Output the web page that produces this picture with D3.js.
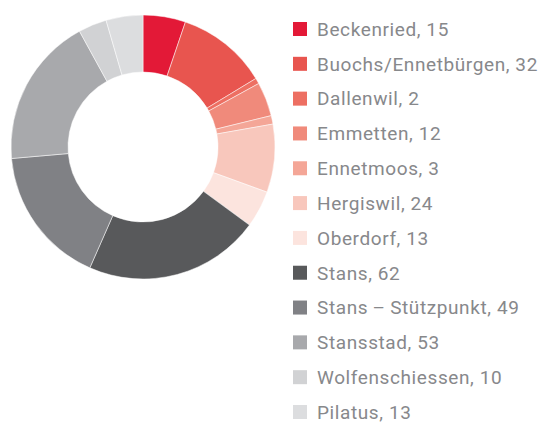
<!DOCTYPE html>
<html>
<head>
<meta charset="utf-8">
<script src="https://cdn.jsdelivr.net/npm/d3@7"></script>
<style>
  body { margin: 0; background: #fff; }
</style>
</head>
<body>
<svg id="chart"></svg>
<script>
const names = ["Beckenried", "Buochs/Ennetbürgen", "Dallenwil", "Emmetten", "Ennetmoos", "Hergiswil",
  "Oberdorf", "Stans", "Stans\u2009–\u2009Stützpunkt", "Stansstad", "Wolfenschiessen", "Pilatus"];
const values = [15, 32, 2, 12, 3, 24, 13, 62, 49, 53, 10, 13];
const colors = ["#e31937", "#e8554f", "#ed6f62", "#f08a7b", "#f4a697", "#f8c7bc",
  "#fce4de", "#58595b", "#808185", "#a8a9ac", "#d1d2d4", "#dcdddf"];

const width = 543, height = 423;
const cx = 143, cy = 147, outerR = 132, innerR = 75;

const svg = d3.select("svg#chart").attr("width", width).attr("height", height);

const pie = d3.pie().sort(null).value(d => d)(values);
const arc = d3.arc().innerRadius(innerR).outerRadius(outerR);
const color = d3.scaleOrdinal(d3.range(values.length), colors);

svg.append("g")
  .attr("transform", `translate(${cx}, ${cy})`)
  .selectAll("path")
  .data(pie)
  .join("path")
  .attr("d", arc)
  .attr("fill", d => color(d.index))
  .attr("stroke", "#fff")
  .attr("stroke-width", 0.5);

const y = d3.scalePoint(d3.range(names.length), [29, 412]);

const legend = svg.append("g")
  .style("font-family", "Roboto, sans-serif")
  .style("font-size", "19px")
  .selectAll("g")
  .data(names)
  .join("g")
  .attr("transform", (d, i) => `translate(293, ${y(i)})`);

legend.append("rect")
  .attr("y", -7)
  .attr("width", 14)
  .attr("height", 14)
  .attr("fill", (d, i) => color(i));

legend.append("text")
  .attr("x", 24)
  .attr("dy", "0.36em")
  .attr("fill", "#87888b")
  .style("letter-spacing", "0.6px")
  .text((d, i) => `${d}, ${values[i]}`);
</script>
</body>
</html>
